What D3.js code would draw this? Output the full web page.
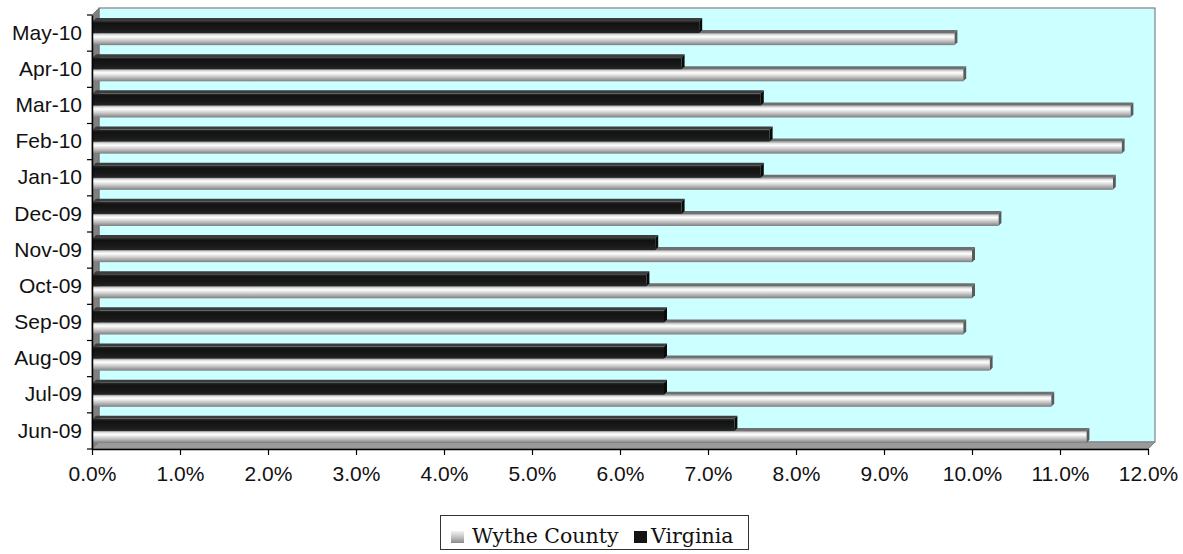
<!DOCTYPE html>
<html>
<head>
<meta charset="utf-8">
<script src="https://cdn.jsdelivr.net/npm/d3@7"></script>
<style>
  html, body { margin: 0; padding: 0; background: #fff; }
  svg { display: block; }
</style>
</head>
<body>
<svg id="chart" width="1183" height="554"></svg>
<script>
// Monthly unemployment rate (%), June 2009 – May 2010
const categories = ["Jun-09","Jul-09","Aug-09","Sep-09","Oct-09","Nov-09","Dec-09","Jan-10","Feb-10","Mar-10","Apr-10","May-10"];
const wytheCounty = [11.3, 10.9, 10.2, 9.9, 10.0, 10.0, 10.3, 11.6, 11.7, 11.8, 9.9, 9.8];
const virginia    = [7.3, 6.5, 6.5, 6.5, 6.3, 6.4, 6.7, 7.6, 7.7, 7.6, 6.7, 6.9];
const seriesNames = ["Virginia", "Wythe County"];
const legendNames = ["Wythe County", "Virginia"];
const xTicks = [0, 1, 2, 3, 4, 5, 6, 7, 8, 9, 10, 11, 12];

const svg = d3.select("#chart");

// Front plane of the 3-D plot area and the depth offset to the back wall
const front = { left: 92, right: 1148, top: 15, bottom: 449 };
const depth = { dx: 7, dy: -7 };
const barDepth = 3;

const x = d3.scaleLinear().domain([0, 12]).range([front.left, front.right]);
const y = d3.scaleBand().domain(categories).range([front.bottom, front.top]).paddingInner(0).paddingOuter(0);
const ySub = d3.scaleBand().domain(seriesNames).range([0, y.bandwidth()]).paddingInner(0).paddingOuter(0.5);

const defs = svg.append("defs");
const grayGrad = defs.append("linearGradient").attr("id", "grayFace").attr("x1", 0).attr("y1", 0).attr("x2", 0).attr("y2", 1);
[[0, "#8a8a8a"], [0.12, "#dcdcdc"], [0.3, "#ffffff"], [0.55, "#d4d4d4"], [0.8, "#a6a6a6"], [1, "#7c7c7c"]]
  .forEach(([o, c]) => grayGrad.append("stop").attr("offset", o).attr("stop-color", c));
const blackGrad = defs.append("linearGradient").attr("id", "blackFace").attr("x1", 0).attr("y1", 0).attr("x2", 0).attr("y2", 1);
[[0, "#2e2e2e"], [0.2, "#121212"], [0.7, "#1a1a1a"], [1, "#262626"]]
  .forEach(([o, c]) => blackGrad.append("stop").attr("offset", o).attr("stop-color", c));
const swatchGrad = defs.append("linearGradient").attr("id", "graySwatch").attr("x1", 0).attr("y1", 0).attr("x2", 0).attr("y2", 1);
[[0, "#f2f2f2"], [0.5, "#c4c4c4"], [1, "#8a8a8a"]]
  .forEach(([o, c]) => swatchGrad.append("stop").attr("offset", o).attr("stop-color", c));

// Back wall
svg.append("rect")
  .attr("x", front.left + depth.dx).attr("y", front.top + depth.dy)
  .attr("width", front.right - front.left).attr("height", front.bottom - front.top)
  .attr("fill", "#ccffff").attr("stroke", "#808080").attr("stroke-width", 1.2);

// Side wall
svg.append("polygon")
  .attr("points", [
    [front.left, front.top], [front.left + depth.dx, front.top + depth.dy],
    [front.left + depth.dx, front.bottom + depth.dy], [front.left, front.bottom]
  ].map(p => p.join(",")).join(" "))
  .attr("fill", "#808080").attr("stroke", "#707070").attr("stroke-width", 0.8);

// Floor
svg.append("polygon")
  .attr("points", [
    [front.left, front.bottom], [front.left + depth.dx, front.bottom + depth.dy],
    [front.right + depth.dx, front.bottom + depth.dy], [front.right, front.bottom]
  ].map(p => p.join(",")).join(" "))
  .attr("fill", "#9a9a9a").attr("stroke", "#808080").attr("stroke-width", 1);

// Bars: each bar is a front face, a top face and an end face
const rows = categories.map((c, i) => ({ cat: c, wythe: wytheCounty[i], va: virginia[i] }));
const style = {
  "Wythe County": { face: "url(#grayFace)", top: "#6f6f6f", side: "#5a5a5a" },
  "Virginia":     { face: "url(#blackFace)", top: "#3c3c3c", side: "#0a0a0a" }
};

function drawBar(g, cat, series, value) {
  const y0 = y(cat) + ySub(series);
  const h = ySub.bandwidth();
  const x0 = x(0) + 1, x1 = x(value);
  const s = style[series];
  g.append("polygon")
    .attr("points", [[x0, y0], [x0 + barDepth, y0 - barDepth], [x1 + barDepth, y0 - barDepth], [x1, y0]].map(p => p.join(",")).join(" "))
    .attr("fill", s.top);
  g.append("polygon")
    .attr("points", [[x1, y0], [x1 + barDepth, y0 - barDepth], [x1 + barDepth, y0 + h - barDepth], [x1, y0 + h]].map(p => p.join(",")).join(" "))
    .attr("fill", s.side);
  g.append("rect")
    .attr("x", x0).attr("y", y0).attr("width", x1 - x0).attr("height", h)
    .attr("fill", s.face);
}

const barsG = svg.append("g");
rows.forEach(r => {
  const g = barsG.append("g");
  drawBar(g, r.cat, "Wythe County", r.wythe);
  drawBar(g, r.cat, "Virginia", r.va);
});

// Category axis
const yAxis = svg.append("g")
  .attr("transform", `translate(${front.left},0)`)
  .call(d3.axisLeft(y).tickSize(0).tickPadding(10).tickSizeOuter(0));
yAxis.select(".domain").attr("stroke", "#000").attr("stroke-width", 1.5);
yAxis.selectAll("text")
  .attr("font-family", "'Liberation Sans', Arial, sans-serif")
  .attr("font-size", "21px").attr("fill", "#111");
// Tick marks at category boundaries
const bounds = categories.map(c => y(c)).concat([front.bottom]);
svg.append("g").selectAll("line").data(bounds).join("line")
  .attr("x1", front.left - 5).attr("x2", front.left)
  .attr("y1", d => d).attr("y2", d => d)
  .attr("stroke", "#000").attr("stroke-width", 1.2);

// Value axis
const xAxis = svg.append("g")
  .attr("transform", `translate(0,${front.bottom})`)
  .call(d3.axisBottom(x).tickValues(xTicks).tickFormat(d => d.toFixed(1) + "%").tickSize(6).tickPadding(11).tickSizeOuter(0));
xAxis.select(".domain").attr("stroke", "#000").attr("stroke-width", 1.5);
xAxis.selectAll(".tick line").attr("stroke", "#000").attr("stroke-width", 1.2);
xAxis.selectAll("text")
  .attr("font-family", "'Liberation Sans', Arial, sans-serif")
  .attr("font-size", "21px").attr("fill", "#111");

// Legend
const legend = svg.append("g");
legend.append("rect")
  .attr("x", 440.5).attr("y", 515.5).attr("width", 308).attr("height", 34)
  .attr("fill", "#fff").attr("stroke", "#333").attr("stroke-width", 1);
const legendItems = [
  { name: legendNames[0], fill: "url(#graySwatch)", sx: 451, tx: 472 },
  { name: legendNames[1], fill: "#141414", sx: 634, tx: 651 }
];
legendItems.forEach(it => {
  legend.append("rect").attr("x", it.sx).attr("y", 531).attr("width", 13).attr("height", 12).attr("fill", it.fill);
  legend.append("text").attr("x", it.tx).attr("y", 543)
    .attr("font-family", "'DejaVu Serif', serif").attr("font-size", "20.5px").attr("fill", "#111")
    .text(it.name);
});
</script>
</body>
</html>
